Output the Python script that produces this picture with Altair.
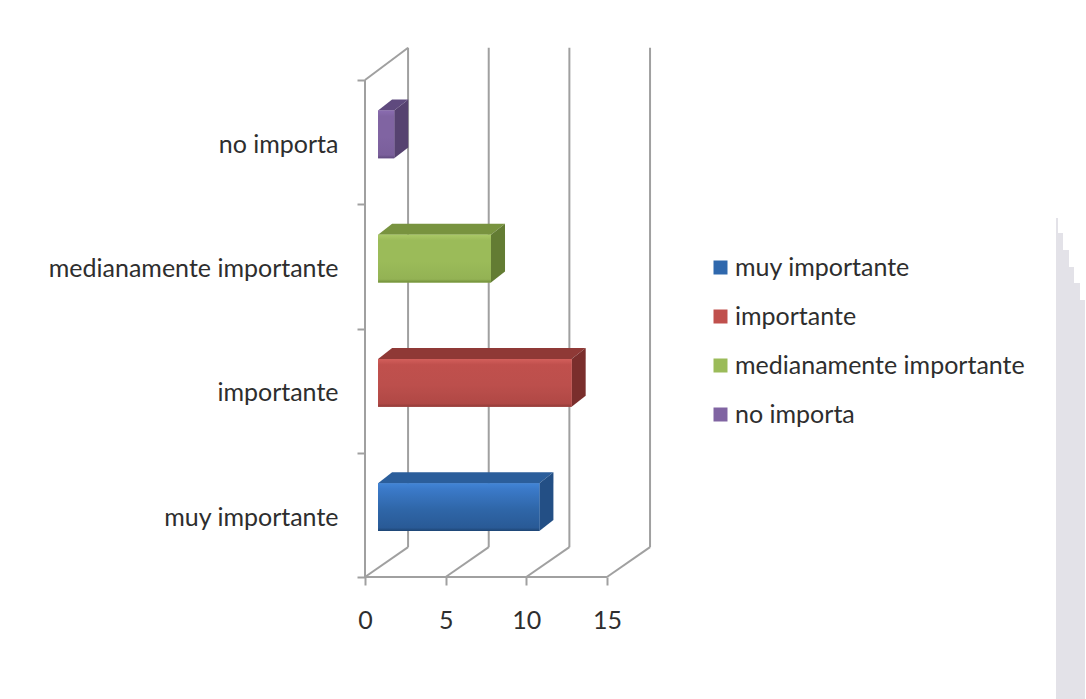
import altair as alt
import pandas as pd

# Survey responses, bottom row first
categories = ["muy importante", "importante", "medianamente importante", "no importa"]
values = [10, 12, 7, 1]
x_ticks = [0, 5, 10, 15]
y_ticks = [0, 1, 2, 3, 4]

legend_colors = ["#2f68ad", "#c0504d", "#9bbb59", "#8064a2"]
front_stops = [
    ["#4285d6", "#3b7ac9", "#2f66a8", "#295a96", "#1d4473"],
    ["#d35f5b", "#c0504d", "#bc4f4c", "#b04845", "#8f3a37"],
    ["#aac967", "#9bbb59", "#9bbb59", "#93b254", "#6f8c38"],
    ["#8a6cb0", "#8064a2", "#8064a2", "#7a5f9b", "#5f4a7e"],
]
top_colors = ["#2b5e9b", "#8f3936", "#78933f", "#5f4a7e"]
side_colors = ["#234f85", "#7a2e2c", "#637c33", "#564270"]

# Oblique depth of the box, in axis units
WALL_DX, WALL_DY = 2.67, 0.24
BAR_DX, BAR_DY = 0.87, 0.088
BAR_GAP_X = 0.81
BAR_LOW, BAR_HIGH = 0.37, 0.755

x_scale = alt.Scale(domain=[0, 17.73], nice=False, zero=False)
y_scale = alt.Scale(domain=[0, 4.266], nice=False, zero=False)
GRID = "#a0a0a0"
GRID_WIDTH = 2
FONT = "Lato"
LABEL_SIZE = 25
TEXT = "#2e2e2e"


def X(**kw):
    return alt.X("x:Q", scale=x_scale, title=None, **kw)


def Y(**kw):
    return alt.Y("y:Q", scale=y_scale, title=None, **kw)


layers = []

# Pale stepped strip along the right edge of the page
strip_left = [691, 693, 698, 704, 709, 715]
strip_right = [693, 698, 704, 709, 715, 720]
strip_top = [171, 186, 203, 220, 236, 253]
dummy = pd.DataFrame({"k": [0]})
for l, r, t in zip(strip_left, strip_right, strip_top):
    layers.append(
        alt.Chart(dummy).mark_rect(fill="#e3e2e8").encode(
            x=alt.value(l), x2=alt.value(r), y=alt.value(t), y2=alt.value(652)
        )
    )

# Walls and floor of the box
segments = []
for t in x_ticks:
    segments.append(dict(x=t, x2=t + WALL_DX, y=0, y2=WALL_DY))
    segments.append(dict(x=t + WALL_DX, x2=t + WALL_DX, y=WALL_DY, y2=4 + WALL_DY + 0.02))
segments.append(dict(x=0, x2=WALL_DX, y=4, y2=4 + WALL_DY + 0.02))
segments.append(dict(x=0, x2=0, y=0, y2=4))
segments.append(dict(x=0, x2=15, y=0, y2=0))
layers.append(
    alt.Chart(pd.DataFrame(segments)).mark_rule(color=GRID, strokeWidth=GRID_WIDTH).encode(
        x=X(), x2="x2:Q", y=Y(), y2="y2:Q"
    )
)

# Axis ticks and labels
label_expr = "[" + ",".join(f"'{c}'" for c in categories) + ",''][datum.value]"
axis_base = pd.DataFrame({"x": [0], "y": [0]})
layers.append(
    alt.Chart(axis_base).mark_point(opacity=0).encode(
        x=X(axis=alt.Axis(values=x_ticks, domain=False, grid=False, tickColor=GRID,
                          tickWidth=GRID_WIDTH, tickSize=8, labelPadding=23, labelFont=FONT,
                          labelFontSize=LABEL_SIZE, labelColor=TEXT, labelFlush=False)),
        y=Y(axis=alt.Axis(values=y_ticks, domain=False, grid=False, tickColor=GRID,
                          tickWidth=GRID_WIDTH, tickSize=8, labelPadding=19, labelFont=FONT,
                          labelFontSize=LABEL_SIZE, labelColor=TEXT, labelOffset=-60,
                          labelLimit=400, labelExpr=label_expr)),
    )
)

# One bevelled box per category
for i, (cat, val) in enumerate(zip(categories, values)):
    low, high = i + BAR_LOW, i + BAR_HIGH
    left, right = BAR_GAP_X, BAR_GAP_X + val

    top_face = pd.DataFrame([
        dict(x=left, x2=right, y=high),
        dict(x=left + BAR_DX, x2=right + BAR_DX, y=high + BAR_DY),
    ])
    layers.append(
        alt.Chart(top_face).mark_area(orient="horizontal", fill=top_colors[i]).encode(
            x=X(), x2="x2:Q", y=Y()
        )
    )

    side_face = pd.DataFrame([
        dict(x=right, y=low, y2=high),
        dict(x=right + BAR_DX, y=low + BAR_DY, y2=high + BAR_DY),
    ])
    layers.append(
        alt.Chart(side_face).mark_area(orient="vertical", fill=side_colors[i]).encode(
            x=X(), y=Y(), y2="y2:Q"
        )
    )

    front = pd.DataFrame([dict(x=left, x2=right, y=low, y2=high, serie=cat)])
    layers.append(
        alt.Chart(front).mark_rect().encode(
            x=X(), x2="x2:Q", y=Y(), y2="y2:Q",
            color=alt.Color(
                "serie:N",
                scale=alt.Scale(domain=categories, range=legend_colors),
                legend=alt.Legend(
                    title=None, orient="none", legendX=343, legendY=208,
                    symbolType="square", symbolSize=196, symbolStrokeWidth=0,
                    labelFont=FONT, labelFontSize=LABEL_SIZE, labelColor=TEXT,
                    rowPadding=23, labelOffset=2, labelLimit=400,
                ),
            ),
        )
    )
    stops = front_stops[i]
    layers.append(
        alt.Chart(front).mark_rect(
            fill=alt.LinearGradient(
                gradient="linear", x1=0, y1=0, x2=0, y2=1,
                stops=[
                    alt.GradientStop(color=stops[0], offset=0),
                    alt.GradientStop(color=stops[1], offset=0.12),
                    alt.GradientStop(color=stops[2], offset=0.55),
                    alt.GradientStop(color=stops[3], offset=0.93),
                    alt.GradientStop(color=stops[4], offset=1),
                ],
            )
        ).encode(x=X(), x2="x2:Q", y=Y(), y2="y2:Q")
    )

chart = (
    alt.layer(*layers)
    .properties(
        width=286,
        height=530,
        background="white",
        padding={"left": 365, "top": 47, "right": 435, "bottom": 122},
        autosize=alt.AutoSizeParams(type="none"),
    )
    .configure_view(stroke=None)
)

chart.save("out.html", embed_options={"renderer": "svg", "actions": False})
